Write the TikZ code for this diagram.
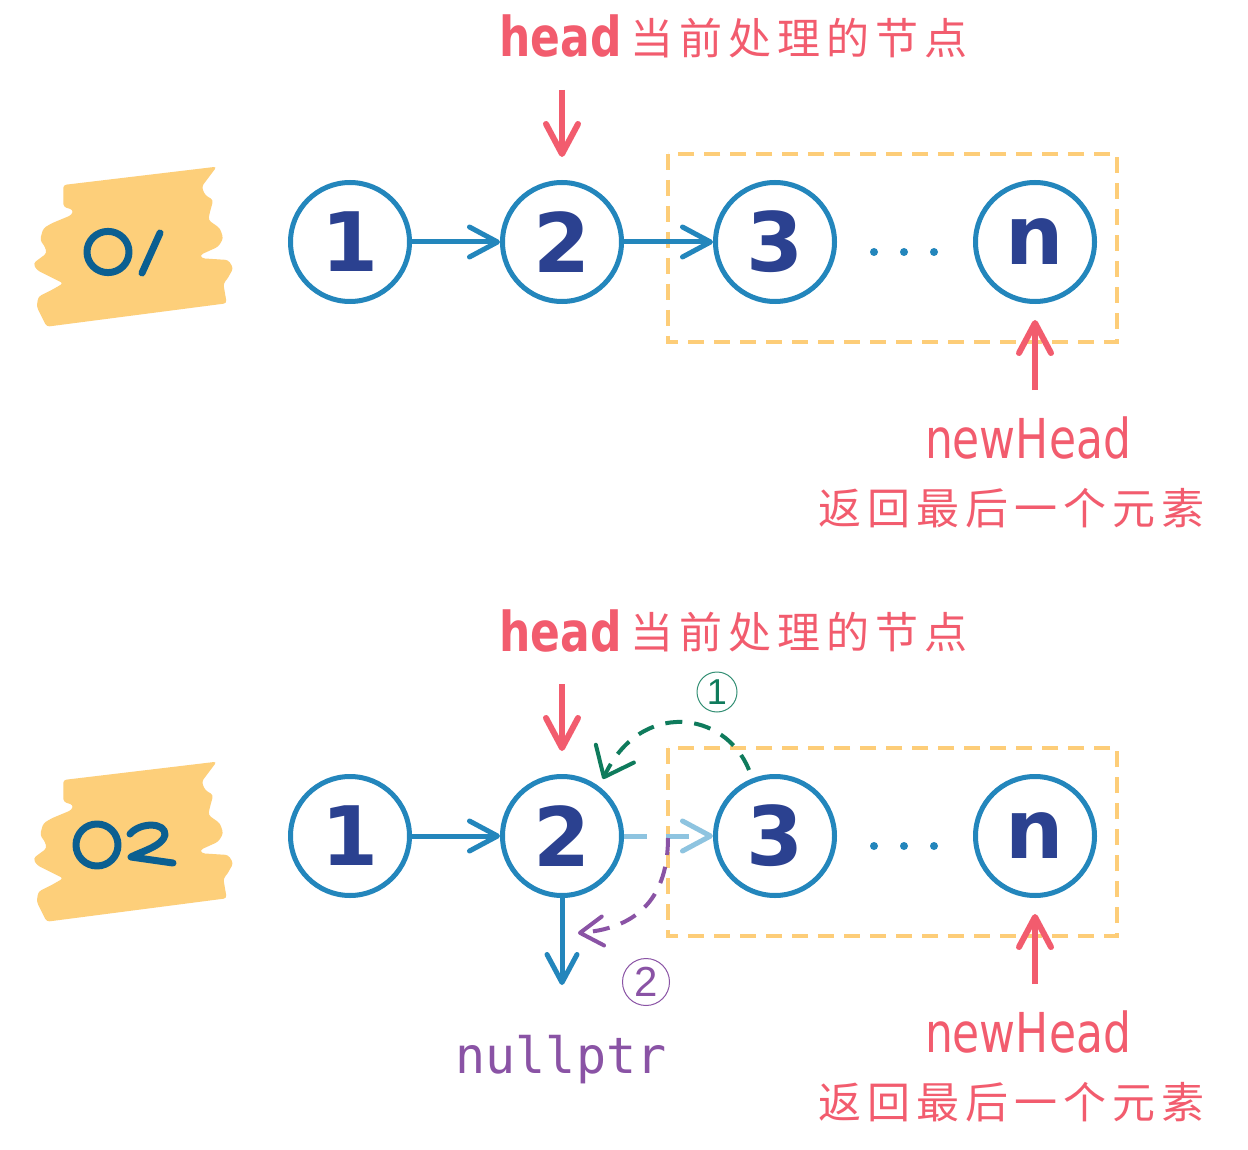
\documentclass[tikz,border=0pt]{standalone}
\usepackage{fontspec}
\usetikzlibrary{arrows.meta}
\setmainfont{DejaVu Sans}
\newfontfamily\lblfont[FakeStretch=0.8]{DejaVu Sans}
\newfontfamily\digfont{DejaVu Sans}
\newfontfamily\thinfont{Liberation Sans}
\newfontfamily\cjkfont[LetterSpace=14]{Noto Sans CJK SC}
\newfontfamily\monofont{DejaVu Sans Mono}
\definecolor{nblue}{HTML}{2386BC}
\definecolor{navy}{HTML}{2B4190}
\definecolor{hred}{HTML}{F25C6E}
\definecolor{lblue}{HTML}{8EC4E0}
\definecolor{orng}{HTML}{FDCD78}
\definecolor{gdark}{HTML}{0F7B5C}
\definecolor{purp}{HTML}{8A53A5}
\definecolor{bdgfill}{HTML}{FDCF7A}
\definecolor{bdgtext}{HTML}{0B5F91}
\tikzset{
  nd/.style={circle, draw=nblue, line width=2.5pt, minimum size=59.5pt, inner sep=0pt,
    text=navy, font=\digfont\bfseries\fontsize{41pt}{41pt}\selectfont},
  barrow/.style={draw=nblue, line width=2.5pt, -{Straight Barb[length=14pt,width=15pt,round]}},
  ldarrow/.style={draw=lblue, line width=2.5pt, dash pattern=on 11.5pt off 9.5pt,
    -{Straight Barb[length=14pt,width=15pt,round]}},
  rarrow/.style={draw=hred, line width=3pt, -{Straight Barb[length=15pt,width=16pt,round]}},
  obox/.style={draw=orng, line width=1.6pt, dash pattern=on 8pt off 5pt},
  gcurve/.style={draw=gdark, line width=2pt, dash pattern=on 8.5pt off 6pt,
    -{Straight Barb[length=13pt,width=21pt,round]}},
  pcurve/.style={draw=purp, line width=2pt, dash pattern=on 8.5pt off 6pt,
    -{Straight Barb[length=11.5pt,width=14.5pt,round]}},
  steplbl/.style={circle, line width=0.5pt, inner sep=0pt, font=\thinfont\fontsize{18pt}{18pt}\selectfont},
  headlbl/.style={text=hred, inner sep=0pt, font=\lblfont\fontsize{27.5pt}{30pt}\selectfont},
  cjklbl/.style={text=hred, inner sep=0pt, font=\cjkfont\fontsize{21.5pt}{24pt}\selectfont},
  bdgpen/.style={draw=bdgtext, line width=3.5pt, line cap=round, line join=round},
  badge/.pic={
    \fill[bdgfill, rounded corners=1.5pt] (63.3,185) -- (216.7,166.7) -- (201.7,186.7) -- (205,195)
      -- (213.3,200) -- (210,211.7) -- (208.3,220) -- (220,228.3) -- (223.3,238.3) -- (218.3,246.7)
      -- (200,255) -- (201.7,258.3) -- (228.3,260) -- (233.3,268.3) -- (226.7,280) -- (223.3,283.3)
      -- (226.7,303.3) -- (46.7,326.7) -- (36.7,306.7) -- (38.3,296.7) -- (51.7,290) -- (63.3,283.3)
      -- (36.7,270) -- (33.3,263.3) -- (46.7,253.3) -- (45,246.7) -- (40,240) -- (43.3,228.3)
      -- (51.7,223.3) -- (71.7,215) -- (73.3,210) -- (63.3,206.7) -- cycle;
  }
}
\begin{document}
\begin{tikzpicture}[x=0.5pt,y=-0.5pt]
\useasboundingbox (0,0) rectangle (1248,1150);
\fill[white] (0,0) rectangle (1248,1150);

% ---------- badges ----------
\pic at (0,0) {badge};
\pic at (0,595) {badge};
\draw[bdgpen] (108,252) ellipse [x radius=10.5pt, y radius=10.3pt];
\draw[bdgpen] (160,233) -- (142,273);
\draw[bdgpen] (97,845) ellipse [x radius=10.5pt, y radius=10.5pt];
\draw[bdgpen] (130,834) .. controls (140,822) and (166,822) .. (165,835)
  .. controls (163,846) and (140,852) .. (131,857) -- (173,863);

% ---------- row 1 ----------
\draw[obox] (668,154) rectangle (1117,342);
\node[nd] (n11) at (350,242) {1};
\node[nd] (n12) at (562,242) {2};
\node[nd] (n13) at (775,242) {3};
\node[nd] (n1n) at (1035,242) {n};
\draw[barrow] (n11) -- (n12);
\draw[barrow] (n12) -- (n13);
\foreach \xx in {874,904,934} \fill[nblue] (\xx,252) circle [radius=2pt];

\node[headlbl, anchor=base west] (h1) at (499,57) {\bfseries head};
\node[cjklbl, anchor=west] (c1) at (630,38) {当前处理的节点};
\coordinate (ra1) at (562,90);
\coordinate (rb1) at (562,157);
\draw[rarrow] (ra1) -- (rb1);

\coordinate (ua1) at (1035,390);
\coordinate (ub1) at (1035,320);
\draw[rarrow] (ua1) -- (ub1);
\node[headlbl, anchor=base] (nh1) at (1028,458) {newHead};
\node[cjklbl, anchor=west] (rt1) at (818,508) {返回最后一个元素};

% ---------- row 2 ----------
\draw[obox] (668,748) rectangle (1117,936);
\node[nd] (n21) at (350,836) {1};
\node[nd] (n22) at (562,836) {2};
\node[nd] (n23) at (775,836) {3};
\node[nd] (n2n) at (1035,836) {n};
\draw[barrow] (n21) -- (n22);
\draw[ldarrow] (n22) -- (n23);
\foreach \xx in {874,904,934} \fill[nblue] (\xx,846) circle [radius=2pt];

\node[headlbl, anchor=base west] (h2) at (499,651) {\bfseries head};
\node[cjklbl, anchor=west] (c2) at (630,632) {当前处理的节点};
\coordinate (ra2) at (562,684);
\coordinate (rb2) at (562,751);
\draw[rarrow] (ra2) -- (rb2);

\coordinate (ua2) at (1035,984);
\coordinate (ub2) at (1035,914);
\draw[rarrow] (ua2) -- (ub2);
\node[headlbl, anchor=base] (nh2) at (1028,1052) {newHead};
\node[cjklbl, anchor=west] (rt2) at (818,1102) {返回最后一个元素};

% down arrow to nullptr
\coordinate (nd2) at (562,985);
\draw[barrow] (n22) -- (nd2);
\node[text=purp, inner sep=0pt, anchor=base, font=\monofont\fontsize{25pt}{28pt}\selectfont] (np) at (561,1073) {nullptr};

% step 1 curve
\coordinate (g1s) at (749,770);
\coordinate (g1e) at (603,779);
\draw[gcurve] (g1s) .. controls (725,710) and (640,700) .. (g1e);
\node[steplbl, draw=gdark!85, text=gdark, minimum size=20pt] (s1) at (717,692) {1};

% step 2 curve
\coordinate (p2s) at (668,838);
\coordinate (p2e) at (578,933);
\draw[pcurve] (p2s) .. controls (668,895) and (640,928) .. (p2e);
\node[steplbl, draw=purp, text=purp, minimum size=23.5pt, font=\thinfont\fontsize{21pt}{21pt}\selectfont] (s2) at (646,982) {2};
\end{tikzpicture}
\end{document}
